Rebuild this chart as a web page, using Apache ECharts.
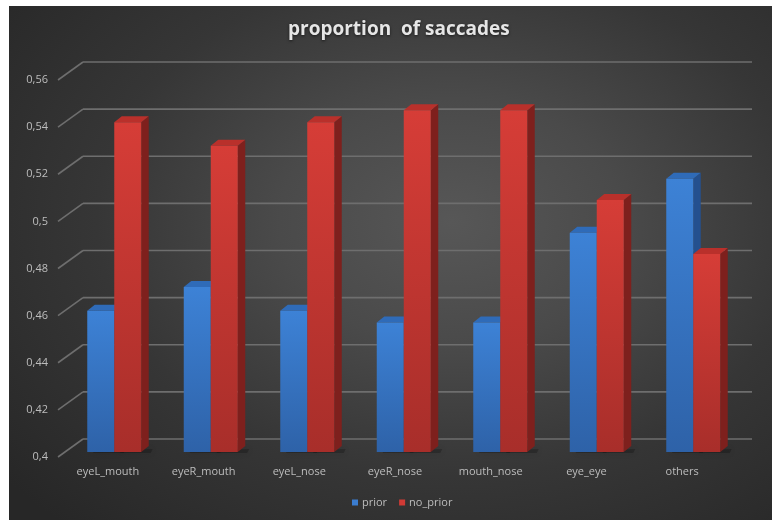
<!DOCTYPE html>
<html>
<head>
<meta charset="utf-8">
<script src="https://cdn.jsdelivr.net/npm/echarts@6/dist/echarts.min.js"></script>
<style>
  html, body { margin: 0; padding: 0; background: #ffffff; }
  #panel {
    position: absolute; left: 9px; top: 6px; width: 763px; height: 514px;
    background: radial-gradient(ellipse 75% 80% at 58% 42%, #575757 0%, #4a4a4a 30%, #363636 62%, #272727 100%);
  }
  #chart { position: absolute; left: 0; top: 0; width: 772px; height: 520px; }
</style>
</head>
<body>
<div id="panel"></div>
<div id="chart"></div>
<script>
// Proportion of saccades per transition type
const categories = ['eyeL_mouth', 'eyeR_mouth', 'eyeL_nose', 'eyeR_nose', 'mouth_nose', 'eye_eye', 'others'];
const prior = [0.46, 0.47, 0.46, 0.455, 0.455, 0.493, 0.516];
const noPrior = [0.54, 0.53, 0.54, 0.545, 0.545, 0.507, 0.484];
const yTicks = [0.4, 0.42, 0.44, 0.46, 0.48, 0.5, 0.52, 0.54, 0.56];

const Y_MIN = 0.4, Y_MAX = 0.56, Y_STEP = 0.02;

const chart = echarts.init(document.getElementById('chart'), null, { renderer: 'canvas' });

// 3D-looking column: front face, right side face, top face
function makeBar(front, side, top, offsetSide) {
  return function (params, api) {
    const idx = api.value(0);
    const val = api.value(1);
    const topPt = api.coord([idx, val]);
    const basePt = api.coord([idx, Y_MIN]);
    const faceW = 27;
    const dx = 7.5, dy = -6;
    const x0 = offsetSide < 0 ? topPt[0] - faceW : topPt[0];
    const x1 = x0 + faceW;
    const yT = topPt[1], yB = basePt[1];
    return {
      type: 'group',
      children: [
        { // soft floor shadow behind the column
          type: 'polygon',
          shape: { points: [[x0 + 6, yB - 2], [x1 + dx + 4, yB - 3], [x1 + dx + 2, yB + 1], [x0 + 6, yB + 1]] },
          style: { fill: 'rgba(0,0,0,0.22)', shadowBlur: 6, shadowColor: 'rgba(0,0,0,0.5)' },
          z2: 0
        },
        {
          type: 'polygon',
          shape: { points: [[x1, yT], [x1 + dx, yT + dy], [x1 + dx, yB + dy], [x1, yB]] },
          style: { fill: side },
          z2: 1
        },
        {
          type: 'polygon',
          shape: { points: [[x0, yT], [x0 + dx, yT + dy], [x1 + dx, yT + dy], [x1, yT]] },
          style: { fill: top },
          z2: 2
        },
        {
          type: 'rect',
          shape: { x: x0, y: yT, width: faceW, height: yB - yT },
          style: { fill: front },
          z2: 3
        }
      ]
    };
  };
}

const blueFront = new echarts.graphic.LinearGradient(0, 0, 0, 1, [
  { offset: 0, color: '#3d82d6' }, { offset: 1, color: '#2e62a8' }
]);
const redFront = new echarts.graphic.LinearGradient(0, 0, 0, 1, [
  { offset: 0, color: '#d63d37' }, { offset: 1, color: '#a82e2a' }
]);

// Back-wall grid lines with the receding diagonal at the left edge
function wallLine(params, api) {
  const p = api.coord([0, api.value(0)]);
  const q = api.coord([1, api.value(0)]);
  const stroke = { stroke: '#6e6e6e', lineWidth: 1.6 };
  return {
    type: 'group',
    children: [
      { type: 'line', shape: { x1: p[0], y1: p[1], x2: q[0], y2: q[1] }, style: stroke },
      { type: 'line', shape: { x1: p[0] - 25, y1: p[1] + 18, x2: p[0], y2: p[1] }, style: stroke }
    ]
  };
}

const labelFont = { color: '#bdbdbd', fontSize: 11, fontFamily: 'Open Sans' };

const option = {
  backgroundColor: 'transparent',
  animation: false,
  title: {
    text: 'proportion  of saccades',
    left: 283,
    top: 15,
    textStyle: {
      color: '#e6e6e6', fontSize: 19, fontWeight: 'bold', fontFamily: 'Open Sans',
      textShadowColor: 'rgba(0,0,0,0.6)', textShadowBlur: 3, textShadowOffsetY: 1
    }
  },
  legend: {
    data: [
      { name: 'prior', itemStyle: { color: '#3b7dd0' } },
      { name: 'no_prior', itemStyle: { color: '#d03a35' } }
    ],
    left: 347,
    top: 492,
    icon: 'rect',
    itemWidth: 6,
    itemHeight: 6,
    itemGap: 12,
    textStyle: { color: '#bdbdbd', fontSize: 11, fontFamily: 'Open Sans', padding: [0, 0, 0, -1] }
  },
  grid: [
    { left: 66, right: 30.5, top: 75, bottom: 68 },   // column faces
    { left: 83, right: 20, top: 62, bottom: 81 },     // back wall
    { left: 60, right: 42, top: 80, bottom: 63 }      // front edge: labels
  ],
  xAxis: [
    { gridIndex: 0, type: 'category', data: categories, show: false },
    { gridIndex: 1, type: 'value', min: 0, max: 1, show: false },
    {
      gridIndex: 2, type: 'category', data: categories,
      axisLine: { show: false }, axisTick: { show: false },
      axisLabel: Object.assign({ margin: 9 }, labelFont)
    }
  ],
  yAxis: [
    { gridIndex: 0, type: 'value', min: Y_MIN, max: Y_MAX, interval: Y_STEP, show: false },
    { gridIndex: 1, type: 'value', min: Y_MIN, max: Y_MAX, interval: Y_STEP, show: false },
    {
      gridIndex: 2, type: 'value', min: Y_MIN, max: Y_MAX, interval: Y_STEP,
      axisLine: { show: false }, axisTick: { show: false }, splitLine: { show: false },
      axisLabel: Object.assign({
        margin: 12,
        formatter: v => String(+v.toFixed(2)).replace('.', ',')
      }, labelFont)
    }
  ],
  series: [
    {
      type: 'custom', name: 'wall', xAxisIndex: 1, yAxisIndex: 1,
      data: yTicks.map(v => [v]), renderItem: wallLine, silent: true, z: 1
    },
    {
      type: 'custom', name: 'prior', xAxisIndex: 0, yAxisIndex: 0,
      data: prior.map((v, i) => [i, v]),
      encode: { x: 0, y: 1 },
      itemStyle: { color: '#3b7dd0' },
      renderItem: makeBar(blueFront, '#24508f', '#2f6bb8', -1), z: 3
    },
    {
      type: 'custom', name: 'no_prior', xAxisIndex: 0, yAxisIndex: 0,
      data: noPrior.map((v, i) => [i, v]),
      encode: { x: 0, y: 1 },
      itemStyle: { color: '#d03a35' },
      renderItem: makeBar(redFront, '#7e201d', '#b9302b', 1), z: 3
    }
  ]
};

chart.setOption(option);
</script>
</body>
</html>
